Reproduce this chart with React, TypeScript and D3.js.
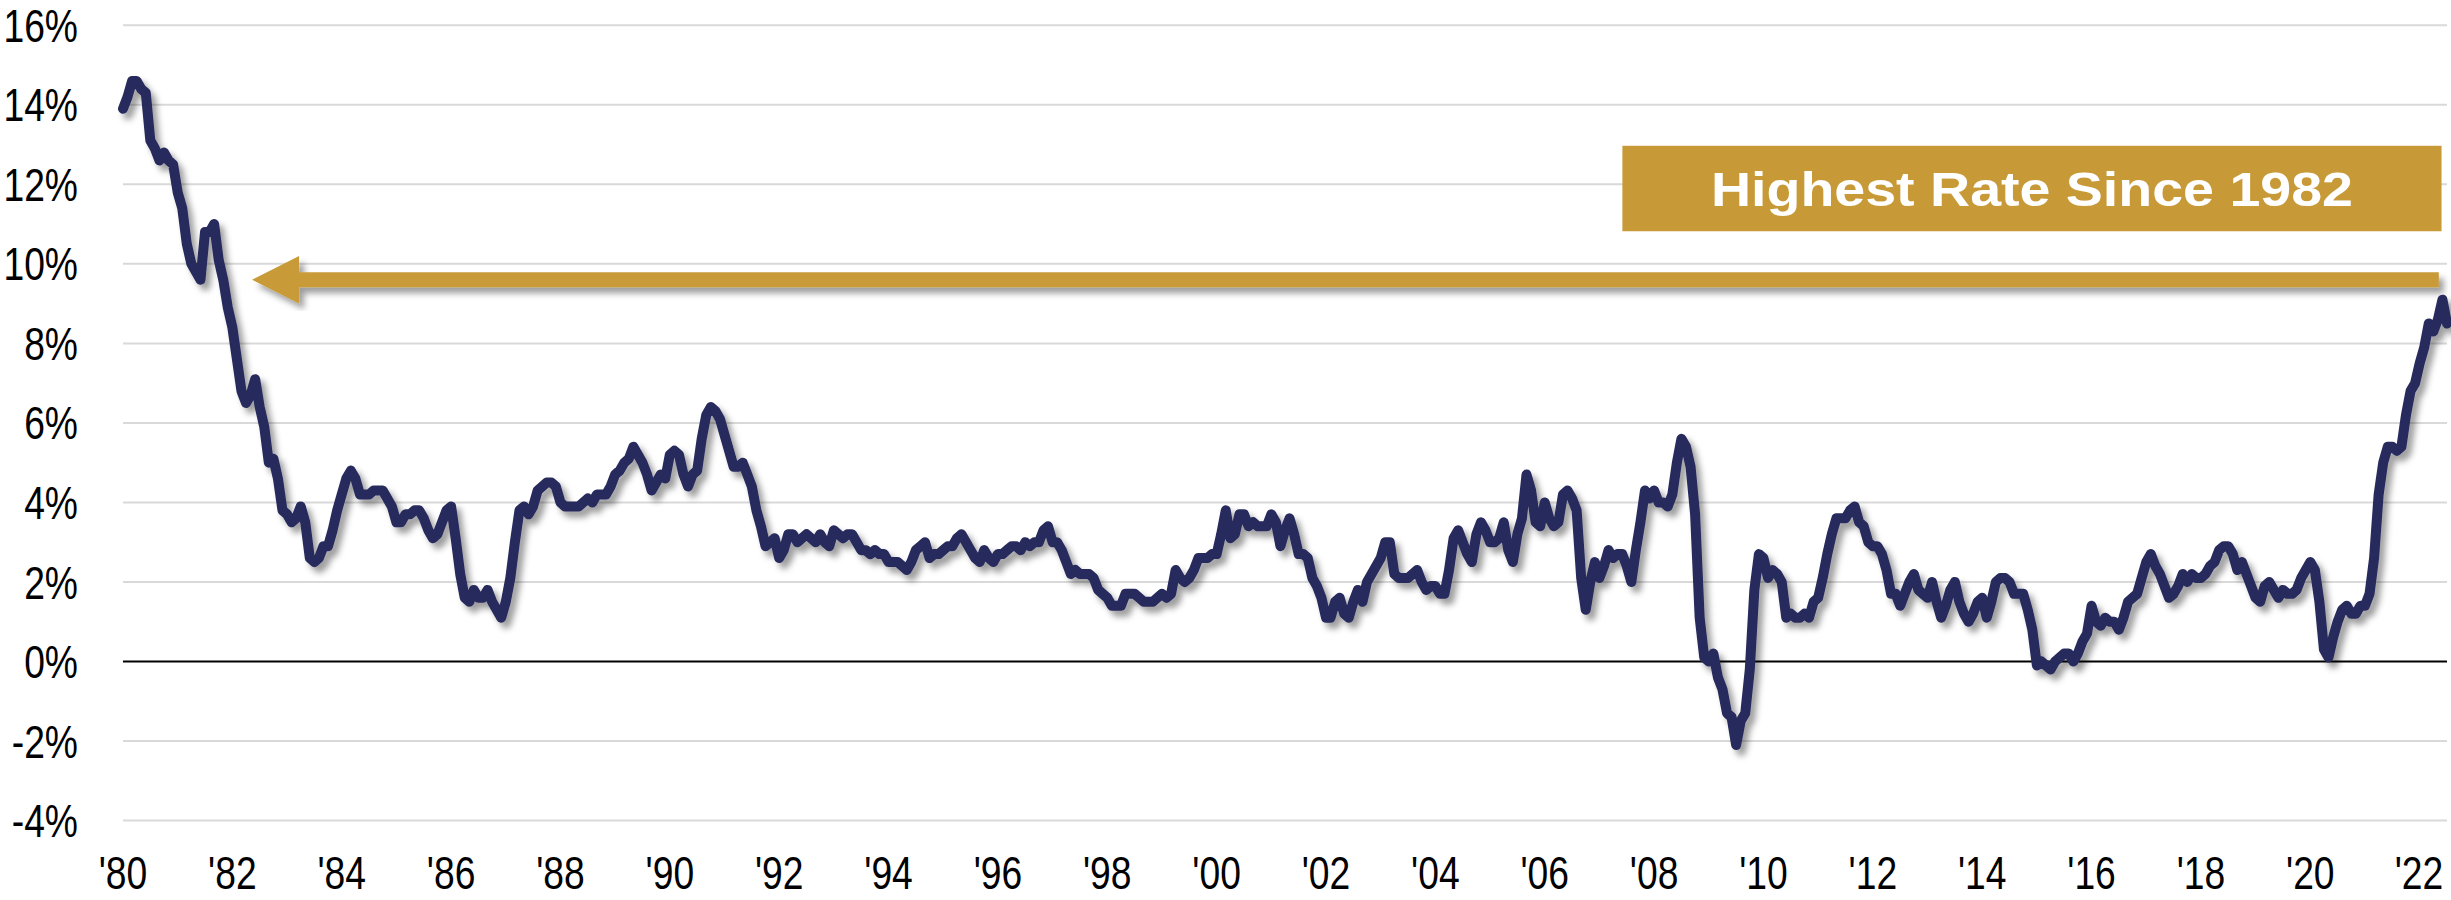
import * as d3 from "d3";

// US CPI, year-over-year %, monthly from Jan 1980 to Jul 2022
const START_YEAR = 1980;

const cpi1980s = [
  13.9, 14.2, 14.6, 14.6, 14.4, 14.3, 13.1, 12.9, 12.6, 12.8, 12.6, 12.5,
  11.8, 11.4, 10.5, 10.0, 9.8, 9.6, 10.8, 10.8, 11.0, 10.1, 9.6, 8.9,
  8.4, 7.6, 6.8, 6.5, 6.7, 7.1, 6.4, 5.9, 5.0, 5.1, 4.6, 3.8,
  3.7, 3.5, 3.6, 3.9, 3.5, 2.6, 2.5, 2.6, 2.9, 2.9, 3.3, 3.8,
  4.2, 4.6, 4.8, 4.6, 4.2, 4.2, 4.2, 4.3, 4.3, 4.3, 4.1, 3.9,
  3.5, 3.5, 3.7, 3.7, 3.8, 3.8, 3.6, 3.3, 3.1, 3.2, 3.5, 3.8,
  3.9, 3.1, 2.2, 1.6, 1.5, 1.8, 1.6, 1.6, 1.8, 1.5, 1.3, 1.1,
  1.5, 2.1, 3.0, 3.8, 3.9, 3.7, 3.9, 4.3, 4.4, 4.5, 4.5, 4.4,
  4.0, 3.9, 3.9, 3.9, 3.9, 4.0, 4.1, 4.0, 4.2, 4.2, 4.2, 4.4,
  4.7, 4.8, 5.0, 5.1, 5.4, 5.2, 5.0, 4.7, 4.3, 4.5, 4.7, 4.6,
];

const cpi1990s = [
  5.2, 5.3, 5.2, 4.7, 4.4, 4.7, 4.8, 5.6, 6.2, 6.4, 6.3, 6.1,
  5.7, 5.3, 4.9, 4.9, 5.0, 4.7, 4.4, 3.8, 3.4, 2.9, 3.0, 3.1,
  2.6, 2.8, 3.2, 3.2, 3.0, 3.1, 3.2, 3.1, 3.0, 3.2, 3.0, 2.9,
  3.3, 3.2, 3.1, 3.2, 3.2, 3.0, 2.8, 2.8, 2.7, 2.8, 2.7, 2.7,
  2.5, 2.5, 2.5, 2.4, 2.3, 2.5, 2.8, 2.9, 3.0, 2.6, 2.7, 2.7,
  2.8, 2.9, 2.9, 3.1, 3.2, 3.0, 2.8, 2.6, 2.5, 2.8, 2.6, 2.5,
  2.7, 2.7, 2.8, 2.9, 2.9, 2.8, 3.0, 2.9, 3.0, 3.0, 3.3, 3.4,
  3.0, 3.0, 2.8, 2.5, 2.2, 2.3, 2.2, 2.2, 2.2, 2.1, 1.8, 1.7,
  1.6, 1.4, 1.4, 1.4, 1.7, 1.7, 1.7, 1.6, 1.5, 1.5, 1.5, 1.6,
  1.7, 1.6, 1.7, 2.3, 2.1, 2.0, 2.1, 2.3, 2.6, 2.6, 2.6, 2.7,
];

const cpi2000s = [
  2.7, 3.2, 3.8, 3.1, 3.2, 3.7, 3.7, 3.4, 3.5, 3.4, 3.4, 3.4,
  3.7, 3.5, 2.9, 3.3, 3.6, 3.2, 2.7, 2.7, 2.6, 2.1, 1.9, 1.6,
  1.1, 1.1, 1.5, 1.6, 1.2, 1.1, 1.5, 1.8, 1.5, 2.0, 2.2, 2.4,
  2.6, 3.0, 3.0, 2.2, 2.1, 2.1, 2.1, 2.2, 2.3, 2.0, 1.8, 1.9,
  1.9, 1.7, 1.7, 2.3, 3.1, 3.3, 3.0, 2.7, 2.5, 3.2, 3.5, 3.3,
  3.0, 3.0, 3.1, 3.5, 2.8, 2.5, 3.2, 3.6, 4.7, 4.3, 3.5, 3.4,
  4.0, 3.6, 3.4, 3.5, 4.2, 4.3, 4.1, 3.8, 2.1, 1.3, 2.0, 2.5,
  2.1, 2.4, 2.8, 2.6, 2.7, 2.7, 2.4, 2.0, 2.8, 3.5, 4.3, 4.1,
  4.3, 4.0, 4.0, 3.9, 4.2, 5.0, 5.6, 5.4, 4.9, 3.7, 1.1, 0.1,
  0.0, 0.2, -0.4, -0.7, -1.3, -1.4, -2.1, -1.5, -1.3, -0.2, 1.8, 2.7,
];

const cpi2010s = [
  2.6, 2.1, 2.3, 2.2, 2.0, 1.1, 1.2, 1.1, 1.1, 1.2, 1.1, 1.5,
  1.6, 2.1, 2.7, 3.2, 3.6, 3.6, 3.6, 3.8, 3.9, 3.5, 3.4, 3.0,
  2.9, 2.9, 2.7, 2.3, 1.7, 1.7, 1.4, 1.7, 2.0, 2.2, 1.8, 1.7,
  1.6, 2.0, 1.5, 1.1, 1.4, 1.8, 2.0, 1.5, 1.2, 1.0, 1.2, 1.5,
  1.6, 1.1, 1.5, 2.0, 2.1, 2.1, 2.0, 1.7, 1.7, 1.7, 1.3, 0.8,
  -0.1, 0.0, -0.1, -0.2, 0.0, 0.1, 0.2, 0.2, 0.0, 0.2, 0.5, 0.7,
  1.4, 1.0, 0.9, 1.1, 1.0, 1.0, 0.8, 1.1, 1.5, 1.6, 1.7, 2.1,
  2.5, 2.7, 2.4, 2.2, 1.9, 1.6, 1.7, 1.9, 2.2, 2.0, 2.2, 2.1,
  2.1, 2.2, 2.4, 2.5, 2.8, 2.9, 2.9, 2.7, 2.3, 2.5, 2.2, 1.9,
  1.6, 1.5, 1.9, 2.0, 1.8, 1.6, 1.8, 1.7, 1.7, 1.8, 2.1, 2.3,
];

const cpi2020s = [
  2.5, 2.3, 1.5, 0.3, 0.1, 0.6, 1.0, 1.3, 1.4, 1.2, 1.2, 1.4,
  1.4, 1.7, 2.6, 4.2, 5.0, 5.4, 5.4, 5.3, 5.4, 6.2, 6.8, 7.0,
  7.5, 7.9, 8.5, 8.3, 8.6, 9.1, 8.5,
];

const yTicks = [-4, -2, 0, 2, 4, 6, 8, 10, 12, 14, 16];
const xTickYears = d3.range(1980, 2023, 2);

// annotation: arrow back to 1982 and the banner above it (data units)
const bannerText = "Highest Rate Since 1982";
const arrowLevel = 9.6;
const arrowTipYear = 1982.36;
const arrowHeadYear = 1983.22;
const arrowEndYear = 2022.35;
const bannerYears = [2007.42, 2022.4];
const bannerLevels = [10.82, 12.97];

const NAVY = "#282a5b";
const GOLD = "#c89a37";
const FONT = "'Liberation Sans', Arial, sans-serif";
const LABEL_SIZE = 46;

// Arial advance widths (em), squeezed to look like Arial Narrow
const GLYPH_EM: Record<string, number> = { "-": 0.333, "%": 0.889, "'": 0.191 };
const arialWidth = (s: string, size: number) =>
  s.split("").reduce((w, c) => w + (GLYPH_EM[c] ?? 0.556), 0) * size;
const narrowWidth = (s: string, size: number) => arialWidth(s, size) * 0.81;

export default function App() {
  const width = 2451;
  const height = 900;

  const values = [...cpi1980s, ...cpi1990s, ...cpi2000s, ...cpi2010s, ...cpi2020s];
  const data = values.map((v, i) => ({ t: START_YEAR + i / 12, v }));

  const x = d3.scaleLinear().domain([1980, 2022.5]).range([123, 2447]);
  const y = d3.scaleLinear().domain([-4, 16]).range([820.5, 25.3]);

  const line = d3
    .line<{ t: number; v: number }>()
    .x((d) => x(d.t))
    .y((d) => y(d.v));

  const ay = y(arrowLevel);
  const headHalf = 23.7;
  const shaftHalf = 7.5;

  const bx0 = x(bannerYears[0]);
  const bx1 = x(bannerYears[1]);
  const by0 = y(bannerLevels[1]);
  const by1 = y(bannerLevels[0]);

  return (
    <div style={{ position: "absolute", left: 0, top: 0, background: "#fff" }}>
      <svg width={width} height={height} style={{ display: "block" }}>
        <defs>
          <filter id="shadow" x="-5%" y="-5%" width="110%" height="120%">
            <feDropShadow dx="5" dy="6" stdDeviation="3" floodColor="#000" floodOpacity="0.38" />
          </filter>
        </defs>

        {/* gridlines */}
        {yTicks.map((t) => (
          <line
            key={t}
            x1={x(1980)}
            x2={x(2022.5)}
            y1={y(t)}
            y2={y(t)}
            stroke={t === 0 ? "#000" : "#d9d9d9"}
            strokeWidth={2}
          />
        ))}

        {/* y labels */}
        {yTicks.map((t) => {
          const s = `${t}%`;
          return (
            <text
              key={"yl" + t}
              x={78}
              y={y(t)}
              dy="0.36em"
              textAnchor="end"
              fontFamily={FONT}
              fontSize={LABEL_SIZE}
              textLength={narrowWidth(s, LABEL_SIZE)}
              lengthAdjust="spacingAndGlyphs"
              fill="#000"
            >
              {s}
            </text>
          );
        })}

        {/* x labels */}
        {xTickYears.map((yr) => {
          const s = "'" + String(yr % 100).padStart(2, "0");
          // keep the last label inside the picture
          const cx = Math.min(x(yr), width - arialWidth(s, LABEL_SIZE) / 2 - 2);
          return (
            <text
              key={"xl" + yr}
              x={cx}
              y={889}
              textAnchor="middle"
              fontFamily={FONT}
              fontSize={LABEL_SIZE}
              textLength={narrowWidth(s, LABEL_SIZE)}
              lengthAdjust="spacingAndGlyphs"
              fill="#000"
            >
              {s}
            </text>
          );
        })}

        {/* arrow */}
        <g filter="url(#shadow)">
          <rect
            x={x(arrowHeadYear) - 2}
            y={ay - shaftHalf}
            width={x(arrowEndYear) - x(arrowHeadYear) + 2}
            height={shaftHalf * 2}
            fill={GOLD}
          />
          <path
            d={`M${x(arrowTipYear)},${ay} L${x(arrowHeadYear)},${ay - headHalf} L${x(arrowHeadYear)},${ay + headHalf} Z`}
            fill={GOLD}
          />
        </g>

        {/* banner */}
        <rect x={bx0} y={by0} width={bx1 - bx0} height={by1 - by0} fill={GOLD} />
        <text
          x={(bx0 + bx1) / 2}
          y={(by0 + by1) / 2}
          dy="0.36em"
          textAnchor="middle"
          fontFamily={FONT}
          fontWeight="bold"
          fontSize={48}
          textLength={642}
          lengthAdjust="spacingAndGlyphs"
          fill="#fff"
        >
          {bannerText}
        </text>

        {/* CPI line */}
        <path
          d={line(data) || ""}
          fill="none"
          stroke={NAVY}
          strokeWidth={10}
          strokeLinejoin="round"
          strokeLinecap="round"
          filter="url(#shadow)"
        />
      </svg>
    </div>
  );
}
